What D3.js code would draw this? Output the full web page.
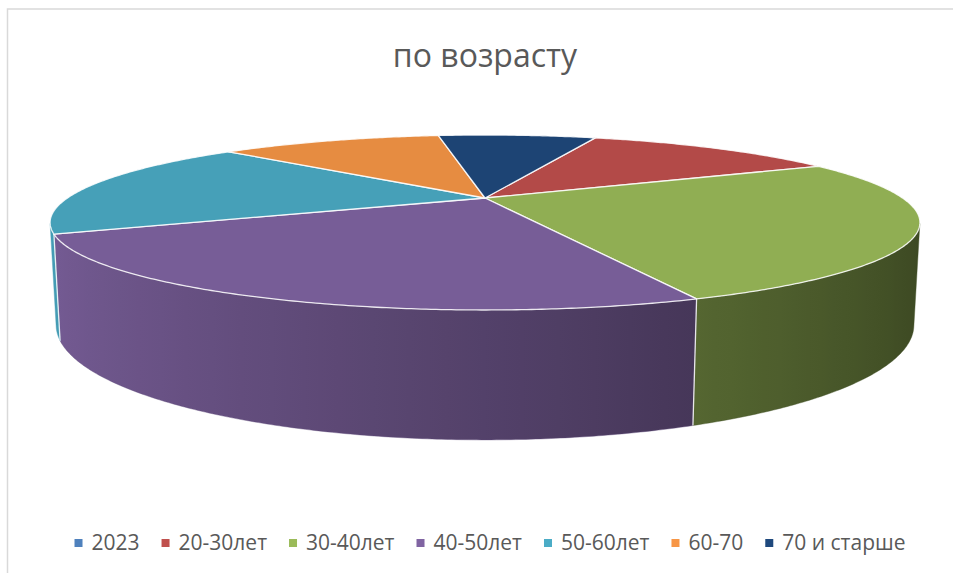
<!DOCTYPE html>
<html lang="ru">
<head>
<meta charset="utf-8">
<title>по возрасту</title>
<style>
  body { margin: 0; background: #fff; }
  .frame { fill: none; stroke: #d9d9d9; stroke-width: 1.5px; }
  .title { font: 32px "Open Sans", sans-serif; fill: #595959; }
  .legend text { font: 21px "Open Sans", sans-serif; fill: #595959; }
  .edge { fill: none; stroke: #fff; stroke-width: 1.3px; stroke-opacity: 0.85; stroke-linejoin: round; }
</style>
</head>
<body>
<svg id="chart" width="953" height="573"></svg>
<script src="https://cdn.jsdelivr.net/npm/d3@7"></script>
<script>

// data (2023 is an empty category in the source sheet)
var categories = ["2023", "20-30лет", "30-40лет", "40-50лет", "50-60лет", "60-70", "70 и старше"];
var values = [0, 8, 17, 16, 12, 7, 5];
var palette = ["#4F81BD", "#C0504D", "#9BBB59", "#8064A2", "#4BACC6", "#F79646", "#1F497D"];
var chartTitle = "по возрасту";

var svg = d3.select("#chart");
var defs = svg.append("defs");

// 3d view of the pie: unit disc, camera tilted a bit above it
var cx = 485, cy = 198,
    sinA = 0.1931, cosA = 0.9812,
    D = 3.504, F = 1463,
    depth = 0.236,
    firstSliceDeg = 19.5;

// point at radius r, angle theta, height y
function proj(theta, y, r) {
  if (r === undefined) r = 1;
  var z = r * Math.sin(theta);
  var u = r * Math.cos(theta),
      v = -z * sinA + y * cosA,
      w = z * cosA + y * sinA;
  return [cx + F * u / (D - w), cy - F * v / (D - w)];
}

function shade(col, k) {
  var c = d3.rgb(col);
  return d3.rgb(c.r * k, c.g * k, c.b * k).formatHex();
}

var topShade = 0.93;
function sideShade(theta) { return topShade * (0.7 - 0.3 * Math.cos(theta)); }

var pie = d3.pie()
    .sort(null)
    .value(function(d) { return d.value; })
    .startAngle(firstSliceDeg * Math.PI / 180)
    .endAngle(firstSliceDeg * Math.PI / 180 + 2 * Math.PI);

var rows = categories.map(function(c, i) { return {name: c, value: values[i], color: palette[i]}; });
var arcs = pie(rows).filter(function(d) { return d.value > 0; });

// pie angle (clockwise from 12 o'clock) -> disc angle
function toTheta(a) { return a - Math.PI / 2; }

svg.append("rect")
    .attr("class", "frame")
    .attr("x", 7.5).attr("y", 9)
    .attr("width", 960).attr("height", 580);

svg.append("text")
    .attr("class", "title")
    .attr("x", 485).attr("y", 67)
    .attr("text-anchor", "middle")
    .text(chartTitle);

var g = svg.append("g");

// outer wall between the two silhouette lines of the cylinder
var silR = Math.asin(1 / (D * cosA)), silL = Math.PI - silR;
var walls = [];
arcs.forEach(function(d) {
  var t0 = toTheta(d.startAngle), t1 = toTheta(d.endAngle);
  [-2 * Math.PI, 0, 2 * Math.PI].forEach(function(off) {
    var a = Math.max(t0 + off, silR), b = Math.min(t1 + off, silL);
    if (b > a) walls.push({a: a, b: b, color: d.data.color, mid: (a + b) / 2});
  });
});

walls.forEach(function(wl, k) {
  var n = Math.max(2, Math.ceil((wl.b - wl.a) / (Math.PI / 360)));
  var topPts = [], botPts = [];
  for (var i = 0; i <= n; i++) {
    var t = wl.a + (wl.b - wl.a) * i / n;
    topPts.push(proj(t, 0));
    botPts.push(proj(t, -depth));
  }
  // gradient stops along screen x
  var x0 = proj(wl.b, 0)[0], x1 = proj(wl.a, 0)[0];
  var grad = defs.append("linearGradient")
      .attr("id", "wall" + k)
      .attr("gradientUnits", "userSpaceOnUse")
      .attr("x1", x0).attr("x2", x1)
      .attr("y1", 0).attr("y2", 0);
  for (var j = 0; j <= 24; j++) {
    var t = wl.b + (wl.a - wl.b) * j / 24;
    var x = proj(t, 0)[0];
    grad.append("stop")
      .attr("offset", (x - x0) / (x1 - x0))
      .attr("stop-color", shade(wl.color, sideShade(t)));
  }
  g.append("path")
    .attr("class", "wall")
    .attr("d", "M" + topPts.join("L") + "L" + botPts.reverse().join("L") + "Z")
    .attr("fill", "url(#wall" + k + ")")
    .attr("stroke", shade(wl.color, sideShade(wl.mid)))
    .attr("stroke-width", 0.4);
});

// white seams on the wall where slices meet
var seams = arcs.map(function(d) { return toTheta(d.startAngle); })
  .map(function(t) { return Math.atan2(Math.sin(t), Math.cos(t)); })
  .filter(function(t) { return t > silR && t < silL; });

g.selectAll(".seam")
  .data(seams)
  .enter().append("path")
    .attr("class", "edge")
    .attr("d", function(t) { return "M" + proj(t, 0) + "L" + proj(t, -depth); });

// top faces
g.selectAll(".slice")
  .data(arcs)
  .enter().append("path")
    .attr("class", "slice edge")
    .attr("d", function(d) {
      var t0 = toTheta(d.startAngle), t1 = toTheta(d.endAngle);
      var n = Math.max(2, Math.ceil((t1 - t0) / (Math.PI / 360)));
      var pts = [proj(0, 0, 0)];
      for (var i = 0; i <= n; i++) pts.push(proj(t0 + (t1 - t0) * i / n, 0));
      return "M" + pts.join("L") + "Z";
    })
    .style("fill", function(d) { return shade(d.data.color, topShade); });

// legend, centred under the plot
var legend = svg.append("g").attr("class", "legend");
var items = legend.selectAll("g")
  .data(rows)
  .enter().append("g");

items.append("rect")
    .attr("width", 8).attr("height", 8)
    .attr("y", 539)
    .attr("fill", function(d) { return d.color; });

items.append("text")
    .attr("x", 17)
    .attr("y", 550)
    .text(function(d) { return d.name; });

var widths = [];
items.each(function() { widths.push(17 + d3.select(this).select("text").node().getComputedTextLength()); });
var gap = 22;
var total = d3.sum(widths) + gap * (widths.length - 1);
var xPos = 490 - total / 2;
items.attr("transform", function(d, i) {
  var x = xPos;
  xPos += widths[i] + gap;
  return "translate(" + x + ",0)";
});

</script>
</body>
</html>
